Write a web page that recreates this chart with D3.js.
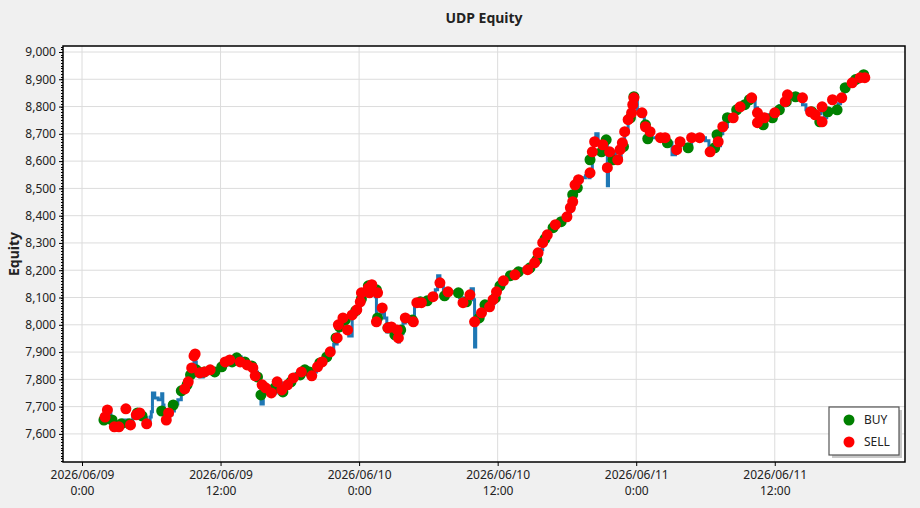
<!DOCTYPE html>
<html>
<head>
<meta charset="utf-8">
<script src="https://cdn.jsdelivr.net/npm/d3@7"></script>
<style>
  body { margin: 0; background: #f0f0f0; }
  .chart text { font-family: "Noto Sans", "Open Sans", sans-serif; fill: #222; }
  .axis text { font-size: 12px; }
  .axis path { display: none; }
</style>
</head>
<body>
<div class="chart"></div>
<script>
// hours since 2026/06/09 0:00 and equity along the blue line
const lineHours = [1.8,2.1,2.2,2.5,2.8,3.1,3.4,3.6,3.9,4.1,4.4,4.7,5.0,5.3,5.6,5.9,6.0,6.1,6.3,6.6,6.8,6.9,7.0,7.1,7.3,7.5,7.8,8.0,8.3,8.6,8.8,9.1,9.3,9.5,9.7,9.8,9.9,10.2,10.5,10.9,11.2,11.6,11.9,12.3,12.6,13.0,13.4,13.8,14.2,14.5,14.8,15.0,15.2,15.4,15.5,15.7,15.9,16.3,16.5,16.8,17.0,17.3,17.6,17.8,18.2,18.5,18.9,19.2,19.6,19.9,20.3,20.6,20.9,21.2,21.5,21.8,22.1,22.2,22.4,22.7,22.9,23.1,23.4,23.7,24.1,24.2,24.6,24.9,25.2,25.4,25.5,25.7,26.0,26.2,26.4,26.7,26.9,27.2,27.4,27.5,27.8,28.0,28.3,28.6,28.8,29.1,29.4,29.8,30.1,30.4,30.6,30.8,31.0,31.3,31.6,32.0,32.4,32.7,33.0,33.3,33.5,33.7,33.9,34.0,34.1,34.4,34.6,34.9,35.2,35.4,35.7,35.9,36.2,36.5,36.7,37.1,37.4,37.8,38.1,38.4,38.8,39.1,39.4,39.7,39.9,40.2,40.5,40.8,41.0,41.4,41.7,42.0,42.3,42.5,42.7,43.0,43.3,43.6,43.9,44.0,44.2,44.3,44.5,44.7,44.9,45.2,45.4,45.5,45.6,45.9,46.2,46.4,46.7,46.8,47.0,47.3,47.5,47.7,47.9,48.1,48.4,48.7,48.9,49.3,49.7,50.1,50.4,50.7,51.1,51.4,51.8,52.1,52.5,52.8,53.2,53.5,54.0,54.3,54.6,55.0,55.3,55.5,55.9,56.2,56.6,56.8,57.1,57.4,57.8,58.0,58.3,58.5,58.7,59.1,59.4,59.8,60.1,60.4,60.8,61.1,61.5,61.8,62.2,62.4,62.7,63.1,63.4,63.7,64.0,64.3,64.5,64.9,65.2,65.5,65.7,66.0,66.3,66.6,67.0,67.3,67.6,67.9];
const lineEquity = [7651,7673,7688,7651,7629,7622,7633,7651,7637,7626,7659,7677,7673,7659,7640,7662,7681,7750,7732,7725,7725,7747,7706,7684,7655,7670,7684,7710,7725,7747,7769,7783,7798,7835,7890,7864,7813,7809,7824,7824,7827,7835,7838,7853,7864,7879,7882,7871,7860,7849,7838,7827,7805,7780,7710,7761,7769,7758,7750,7776,7787,7761,7769,7780,7805,7820,7827,7824,7816,7827,7849,7860,7871,7882,7901,7930,7952,8000,8011,8025,7981,7959,8036,8055,8084,8117,8139,8150,8143,8103,8011,8040,8062,8025,7974,7992,7989,7959,7937,7967,8007,8025,8011,8018,8069,8084,8084,8088,8099,8103,8128,8180,8150,8128,8121,8121,8114,8099,8084,8092,8117,8132,8092,7919,8011,8033,8044,8077,8062,8077,8099,8125,8147,8161,8169,8180,8191,8194,8205,8209,8205,8224,8249,8275,8301,8326,8348,8363,8374,8381,8389,8400,8429,8458,8506,8528,8539,8546,8539,8561,8623,8660,8700,8671,8656,8678,8686,8510,8605,8634,8605,8605,8642,8667,8708,8752,8777,8807,8829,8788,8781,8744,8708,8686,8686,8686,8682,8667,8623,8638,8667,8660,8649,8682,8686,8686,8675,8634,8649,8656,8700,8726,8752,8759,8785,8796,8807,8810,8825,8832,8796,8748,8766,8759,8770,8766,8781,8803,8825,8840,8832,8832,8829,8807,8788,8777,8766,8774,8796,8759,8781,8785,8792,8810,8832,8865,8876,8884,8891,8899,8910,8899];

const buyHours = [1.9,2.6,3.4,4.1,4.8,5.2,6.9,7.9,8.6,9.1,9.4,9.9,10.6,11.5,12.1,13.0,13.4,14.1,14.7,15.2,15.5,16.1,16.7,17.4,18.1,18.9,19.3,19.7,20.6,21.2,22.0,22.3,22.8,23.7,24.2,24.8,25.5,25.6,26.5,27.1,27.6,28.6,29.3,29.9,31.4,32.6,33.3,34.4,34.9,35.8,36.2,37.1,37.8,38.8,39.4,40.1,40.8,41.5,42.5,42.9,44.0,45.0,45.4,46.0,46.9,47.5,47.8,48.8,49.0,50.7,52.5,54.8,55.0,55.9,56.7,57.4,57.8,59.0,59.8,60.4,61.0,61.8,63.2,63.9,64.6,65.4,66.1,67.0,67.7];
const buyEquity = [7651,7651,7637,7637,7677,7666,7684,7706,7758,7780,7816,7835,7827,7827,7846,7864,7879,7864,7849,7809,7743,7761,7769,7754,7791,7816,7835,7827,7860,7882,7952,7992,8018,8051,8095,8143,8128,8025,7989,7963,7981,8018,8084,8088,8106,8117,8084,8025,8073,8099,8143,8180,8194,8209,8238,8315,8356,8378,8477,8502,8605,8634,8678,8605,8653,8759,8836,8733,8682,8667,8649,8649,8697,8759,8788,8807,8825,8733,8759,8788,8818,8836,8781,8744,8781,8788,8869,8899,8917];

const sellHours = [2.0,2.2,2.8,3.2,3.8,4.2,4.7,5.0,5.6,7.3,7.5,8.9,9.2,9.5,9.7,9.8,10.2,10.6,11.1,12.4,12.8,13.7,14.3,14.8,15.0,15.6,15.9,16.4,16.9,17.3,17.8,18.3,19.0,19.9,20.4,20.8,21.5,22.1,22.2,22.6,23.0,23.4,23.8,24.1,24.2,24.8,25.1,24.9,25.6,26.0,25.5,26.5,26.8,27.4,27.3,28.0,28.7,29.0,29.4,30.4,31.0,31.7,33.0,33.6,34.0,34.6,35.3,35.6,35.9,36.5,37.5,38.6,39.2,39.5,39.9,40.3,41.0,42.0,42.3,42.5,42.7,43.0,44.0,44.2,44.4,45.1,45.5,45.7,46.4,46.6,46.8,47.0,47.3,47.6,47.7,47.8,48.5,48.8,49.2,50.1,50.5,51.5,51.8,52.8,53.5,54.4,55.1,55.5,56.4,57.0,58.0,58.5,58.5,59.1,60.0,60.9,61.1,62.4,63.1,63.5,64.1,64.1,65.0,65.8,66.7,67.4,67.8];
const sellEquity = [7662,7688,7626,7626,7692,7633,7670,7677,7637,7651,7677,7765,7791,7842,7886,7893,7824,7827,7835,7864,7871,7864,7853,7842,7813,7780,7769,7750,7791,7761,7780,7805,7827,7813,7846,7864,7901,7952,8000,8025,7981,8036,8055,8084,8117,8135,8147,8117,8117,8062,8011,7989,7992,7952,7981,8025,8011,8081,8081,8103,8154,8121,8081,8110,8011,8044,8066,8092,8121,8161,8183,8202,8227,8264,8301,8330,8367,8396,8429,8451,8513,8532,8557,8634,8671,8660,8576,8634,8605,8642,8667,8708,8752,8777,8807,8832,8777,8726,8708,8686,8686,8642,8671,8686,8686,8634,8671,8726,8759,8799,8832,8777,8741,8759,8777,8818,8843,8832,8781,8770,8799,8744,8825,8832,8887,8906,8906];

const yTicks = [7600,7700,7800,7900,8000,8100,8200,8300,8400,8500,8600,8700,8800,8900,9000];
const legendItems = ["BUY", "SELL"];

let outerWidth = 920;
let outerHeight = 508;
let margin = {top: 46, right: 15, bottom: 46, left: 63};
let width = outerWidth - margin.left - margin.right, height = outerHeight - margin.top - margin.bottom;

let base = new Date(2026, 5, 9, 0, 0);
let toDate = h => new Date(base.getTime() + h * 3600000);

let svg = d3.select('.chart').append('svg')
    .attr('width', outerWidth)
    .attr('height', outerHeight)
    .append("g")
    .attr("transform", "translate(" + margin.left + "," + margin.top + ")");

const xScale = d3.scaleTime()
    .domain([toDate(-1.646), toDate(71.28)])
    .range([0, width]);

const yScale = d3.scaleLinear()
    .domain([7497, 9022])
    .range([height, 0]);

let xTicks = d3.range(0, 61, 12).map(toDate);

// plot background
svg.append("rect")
    .attr("width", width)
    .attr("height", height)
    .attr("fill", "white");

// grid
svg.selectAll(".hgrid")
    .data(yTicks)
    .enter()
    .append("line")
    .attr("x1", 0).attr("x2", width)
    .attr("y1", d => yScale(d)).attr("y2", d => yScale(d))
    .attr("stroke", "#dcdcdc");

svg.selectAll(".vgrid")
    .data(xTicks)
    .enter()
    .append("line")
    .attr("x1", d => xScale(d)).attr("x2", d => xScale(d))
    .attr("y1", 0).attr("y2", height)
    .attr("stroke", "#dcdcdc");

// equity line
let line = d3.line()
    .x((d, i) => xScale(toDate(lineHours[i])))
    .y(d => yScale(d))
    .curve(d3.curveStepAfter);

svg.append("path")
    .datum(lineEquity)
    .attr("fill", "none")
    .attr("stroke", "#1f77b4")
    .attr("stroke-width", 3)
    .attr("d", line);

svg.selectAll(".buy")
    .data(buyEquity)
    .enter()
    .append("circle")
    .attr("cx", (d, i) => xScale(toDate(buyHours[i])))
    .attr("cy", d => yScale(d))
    .attr("r", 5.5)
    .attr("fill", "green");

svg.selectAll(".sell")
    .data(sellEquity)
    .enter()
    .append("circle")
    .attr("cx", (d, i) => xScale(toDate(sellHours[i])))
    .attr("cy", d => yScale(d))
    .attr("r", 5.5)
    .attr("fill", "red");

// axes
let yAxis = d3.axisLeft(yScale)
    .tickValues(yTicks)
    .tickSize(4)
    .tickPadding(3)
    .tickFormat(d3.format(",d"));

svg.append("g")
    .attr("class", "axis y-axis")
    .call(yAxis);

// minor ticks on y
svg.append("g")
    .selectAll("line")
    .data(d3.range(7500, 9021, 10))
    .enter()
    .append("line")
    .attr("x1", -2).attr("x2", 0)
    .attr("y1", d => Math.round(yScale(d)) + 0.5).attr("y2", d => Math.round(yScale(d)) + 0.5)
    .attr("stroke", "black");

let xAxis = d3.axisBottom(xScale)
    .tickValues(xTicks)
    .tickSize(4)
    .tickFormat("");

let xg = svg.append("g")
    .attr("class", "axis x-axis")
    .attr("transform", `translate(0, ${height})`)
    .call(xAxis);

// two-line date labels under each tick
xg.selectAll(".tick").each(function(d) {
    let tick = d3.select(this);
    tick.append("text")
        .attr("text-anchor", "middle")
        .attr("fill", "#222")
        .attr("y", 17)
        .text(d3.timeFormat("%Y/%m/%d")(d));
    tick.append("text")
        .attr("text-anchor", "middle")
        .attr("fill", "#222")
        .attr("y", 33)
        .text(d3.timeFormat("%-H:%M")(d));
});

svg.selectAll(".tick line").attr("stroke", "black");

// frame
svg.append("rect")
    .attr("width", width)
    .attr("height", height)
    .attr("fill", "none")
    .attr("stroke", "black")
    .attr("stroke-width", 1.5);

svg.append("text")
    .attr("x", width / 2)
    .attr("y", -23)
    .attr("text-anchor", "middle")
    .style("font-size", "14px")
    .style("font-weight", "bold")
    .text("UDP Equity");

svg.append("text")
    .attr("transform", `translate(${-44}, ${height / 2}) rotate(-90)`)
    .attr("text-anchor", "middle")
    .style("font-size", "14px")
    .style("font-weight", "bold")
    .text("Equity");

// legend
let legend = svg.append("g")
    .attr("class", "legend")
    .attr("transform", `translate(${width - 76}, ${height - 55})`);

legend.append("rect")
    .attr("x", 3).attr("y", 3)
    .attr("width", 70).attr("height", 48)
    .attr("fill", "#c8c8c8");

legend.append("rect")
    .attr("width", 70).attr("height", 48)
    .attr("fill", "white")
    .attr("stroke", "#555")
    .attr("stroke-width", 1.2);

legend.selectAll('circle')
    .data(legendItems)
    .enter()
    .append("circle")
    .attr("cx", 20)
    .attr("cy", (d, i) => 13 + i * 22)
    .attr("r", 5.5)
    .attr("fill", (d, i) => i == 0 ? "green" : "red");

legend.selectAll('text')
    .data(legendItems)
    .enter()
    .append("text")
    .attr("x", 35)
    .attr("y", (d, i) => 17 + i * 22)
    .style("font-size", "12px")
    .text(d => d);
</script>
</body>
</html>
